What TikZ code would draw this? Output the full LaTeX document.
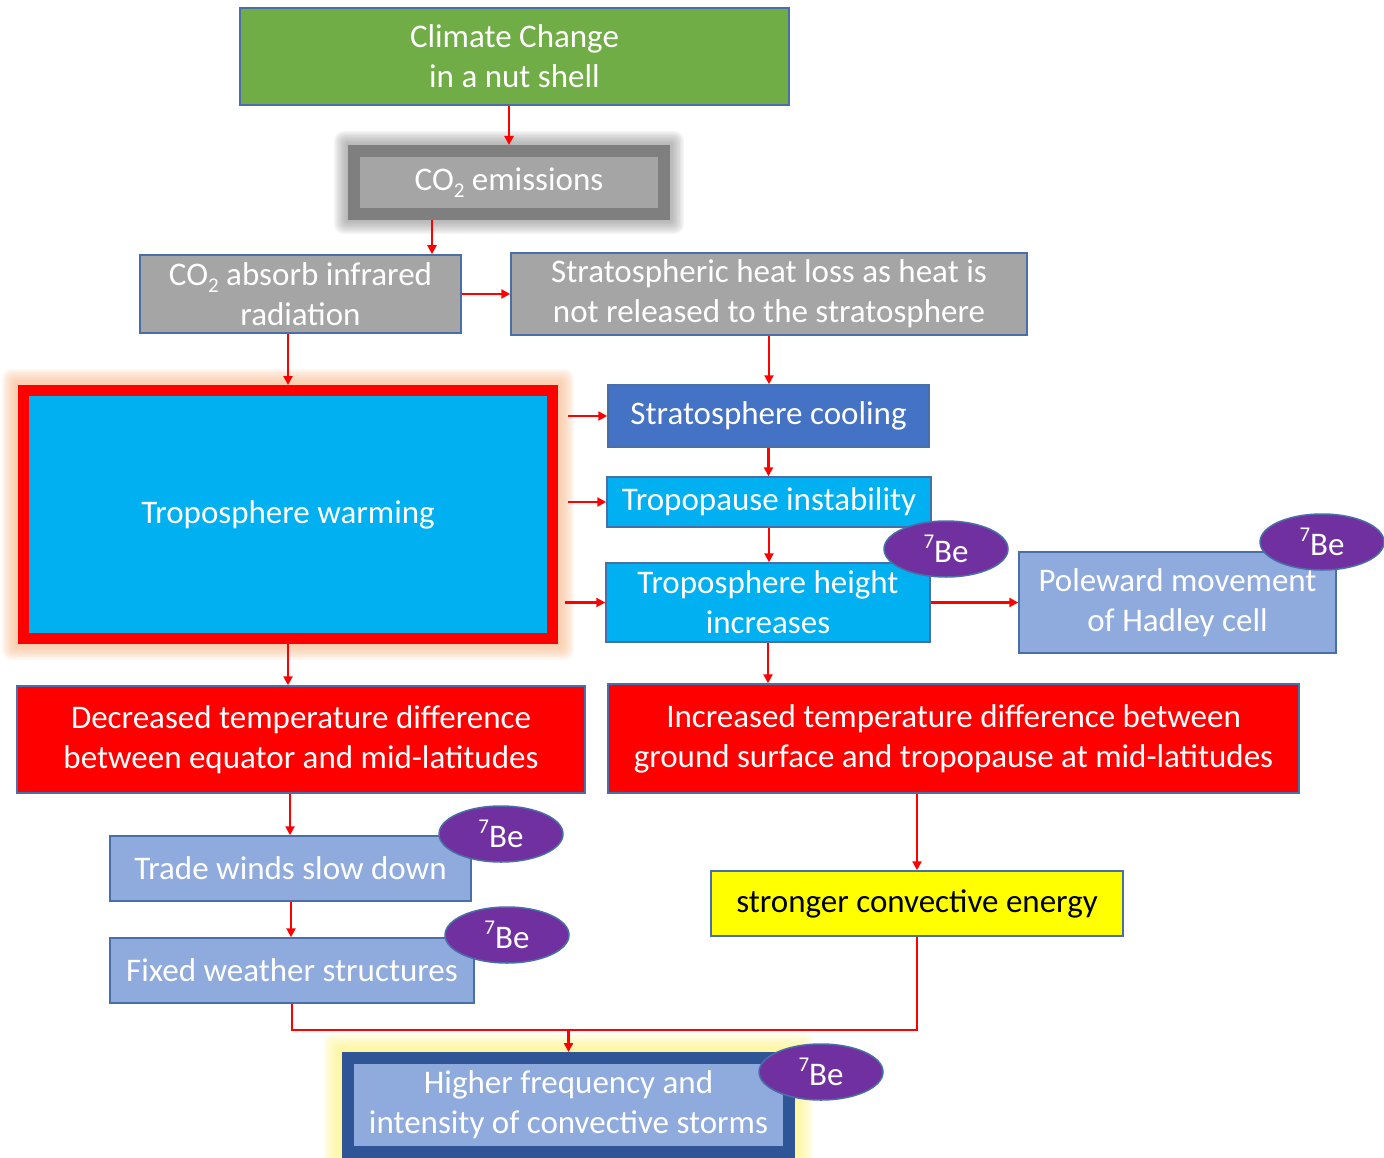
\documentclass[tikz,border=0pt]{standalone}
\usepackage{fontspec}
\setmainfont{Carlito}
\usetikzlibrary{shapes.geometric,arrows.meta,backgrounds}
\definecolor{cgreen}{HTML}{70AD47}
\definecolor{cgrey}{HTML}{A5A5A5}
\definecolor{cdgrey}{HTML}{7F7F7F}
\definecolor{ccyan}{HTML}{00B0F0}
\definecolor{cblue}{HTML}{4472C4}
\definecolor{clblue}{HTML}{8FAADC}
\definecolor{cred}{HTML}{FF0000}
\definecolor{cyell}{HTML}{FFFF00}
\definecolor{cpurp}{HTML}{7030A0}
\definecolor{cnavy}{HTML}{2F5597}
\definecolor{cedge}{HTML}{4A6FA8}
\definecolor{cpeach}{HTML}{F8B88B}
\definecolor{cglowy}{HTML}{FFF27A}
\newcommand{\cotwo}{CO\raisebox{-0.22em}{\fontsize{21}{21}\selectfont 2}}
\newcommand{\beseven}{\raisebox{0.42em}{\fontsize{21}{21}\selectfont 7}Be}
\tikzset{
  box/.style={rectangle, draw=cedge, line width=1.5pt, text=white, align=center,
    inner sep=0pt, font=\fontsize{33}{40}\selectfont},
  bebub/.style={ellipse, draw=cedge, line width=1.5pt, fill=cpurp, text=white,
    inner sep=0pt, minimum width=124pt, minimum height=56pt,
    font=\fontsize{33}{40}\selectfont},
  arr/.style={draw=cred, line width=2.2pt, -{Triangle[length=9pt,width=9pt]}},
  link/.style={draw=cred, line width=2.2pt}
}
\begin{document}
\begin{tikzpicture}[x=1pt,y=-1pt]
\useasboundingbox (0,0) rectangle (1384,1158);

% nodes
\node[box, fill=cgreen, minimum width=549pt, minimum height=97pt] (climate) at (514.5,56.5) {\raisebox{-2pt}{}Climate Change\\in a nut shell};
\node[box, draw=cdgrey, line width=12pt, fill=cgrey, minimum width=310pt, minimum height=63pt] (co2) at (509,182.5) {\cotwo{} emissions};
\node[box, fill=cgrey, minimum width=321pt, minimum height=78pt] (absorb) at (300.5,294) {\cotwo{} absorb infrared\\radiation};
\node[box, fill=cgrey, minimum width=516pt, minimum height=82pt] (heat) at (769,294) {Stratospheric heat loss as heat is\\not released to the stratosphere};
\node[box, draw=cred, line width=11pt, fill=ccyan, minimum width=529pt, minimum height=248pt] (tropo) at (288,514.5) {Troposphere warming};
\node[box, fill=cblue, minimum width=321pt, minimum height=62pt] (cool) at (768.5,416) {Stratosphere cooling};
\node[box, fill=ccyan, minimum width=324pt, minimum height=50pt] (instab) at (769,502) {Tropopause instability};
\node[box, fill=ccyan, minimum width=324pt, minimum height=79pt] (height) at (768,602.5) {Troposphere height\\increases};
\node[box, fill=clblue, minimum width=317pt, minimum height=101pt] (pole) at (1177.5,602.5) {Poleward movement\\of Hadley cell};
\node[box, fill=cred, minimum width=568pt, minimum height=107pt] (decr) at (301,739.5) {Decreased temperature difference\\between equator and mid-latitudes};
\node[box, fill=cred, minimum width=691pt, minimum height=109pt] (incr) at (953.5,738.5) {Increased temperature difference between\\ground surface and tropopause at mid-latitudes};
\node[box, fill=clblue, minimum width=361pt, minimum height=65pt] (trade) at (290.5,868.5) {Trade winds slow down};
\node[box, fill=clblue, minimum width=364pt, minimum height=65pt] (fixed) at (292,970.5) {Fixed weather structures};
\node[box, fill=cyell, text=black, minimum width=412pt, minimum height=65pt] (yell) at (917,903.5) {stronger convective energy};
\node[box, draw=cnavy, line width=12pt, fill=clblue, minimum width=441pt, minimum height=94pt] (storm) at (568.5,1105) {Higher frequency and\\intensity of convective storms};

% 7Be bubbles
\node[bebub] (be1) at (946,549) {\beseven};
\node[bebub] (be2) at (1322,542) {\beseven};
\node[bebub] (be3) at (501,834) {\beseven};
\node[bebub] (be4) at (507,935) {\beseven};
\node[bebub] (be5) at (821,1072) {\beseven};

% glows
\begin{scope}[on background layer]
\foreach \i in {1,...,10}{
  \fill[black!45, opacity=0.09, rounded corners=\i pt]
    ([xshift=-1.4*\i pt, yshift=1.4*\i pt]co2.north west) rectangle ([xshift=1.4*\i pt, yshift=-1.4*\i pt]co2.south east);
  \fill[cpeach, opacity=0.11, rounded corners=\i pt]
    ([xshift=-1.6*\i pt, yshift=1.6*\i pt]tropo.north west) rectangle ([xshift=1.6*\i pt, yshift=-1.6*\i pt]tropo.south east);
  \fill[cglowy, opacity=0.11, rounded corners=\i pt]
    ([xshift=-1.9*\i pt, yshift=1.9*\i pt]storm.north west) rectangle ([xshift=1.9*\i pt, yshift=-1.9*\i pt]storm.south east);
}
\end{scope}

% connectors
\draw[arr] (co2.north |- climate.south) -- (co2.north);
\draw[arr] ([xshift=-77pt]co2.south) -- ([xshift=131.5pt]absorb.north);
\draw[arr] (absorb.east) -- (absorb.east -| heat.west);
\draw[arr] ([xshift=-12.5pt]absorb.south) -- ([xshift=-12.5pt]absorb.south |- tropo.north);
\draw[arr] (heat.south) -- (heat.south |- cool.north);
\draw[arr] ([xshift=10pt]tropo.east |- cool.west) -- (cool.west);
\draw[arr] ([xshift=10pt]tropo.east |- instab.west) -- (instab.west);
\draw[arr] ([xshift=7pt]tropo.east |- height.west) -- (height.west);
\draw[arr] (cool.south) -- (cool.south |- instab.north);
\draw[arr] (instab.south) -- (instab.south |- height.north);
\draw[arr] (height.east) -- (height.east -| pole.west);
\draw[arr] (tropo.south) -- (tropo.south |- decr.north);
\draw[arr] (height.south) -- (height.south |- incr.north);
\draw[arr] ([xshift=-11pt]decr.south) -- ([xshift=-11pt]decr.south |- trade.north);
\draw[arr] ([xshift=0.5pt]trade.south) -- ([xshift=0.5pt]trade.south |- fixed.north);
\draw[arr] (incr.south -| yell.north) -- (yell.north);
\coordinate (merge) at (568.5,1030);
\draw[link] (fixed.south) -- (fixed.south |- merge) -| (yell.south);
\draw[arr] (merge) -- (storm.north);
\end{tikzpicture}
\end{document}
